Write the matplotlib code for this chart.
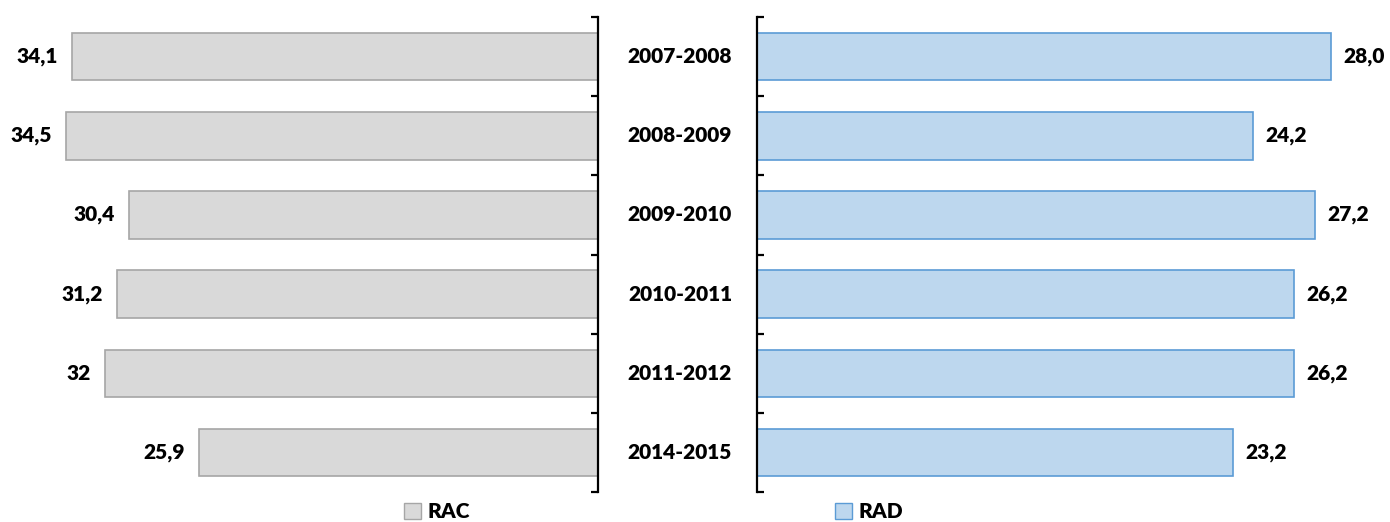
import numpy as np
import matplotlib.pyplot as plt
from matplotlib.patches import Patch

plt.rcParams['font.family'] = ['Lato', 'DejaVu Sans']
plt.rcParams['font.weight'] = 'heavy'

periods = ['2007-2008', '2008-2009', '2009-2010', '2010-2011', '2011-2012', '2014-2015']
rac = [34.1, 34.5, 30.4, 31.2, 32, 25.9]
rac_labels = ['34,1', '34,5', '30,4', '31,2', '32', '25,9']
rad = [28.0, 24.2, 27.2, 26.2, 26.2, 23.2]
rad_labels = ['28,0', '24,2', '27,2', '26,2', '26,2', '23,2']

W, H = 1390, 522
fig = plt.figure(figsize=(13.9, 5.22), dpi=100)
ax1 = fig.add_axes([10 / W, 30 / H, 588 / W, 475 / H])
ax2 = fig.add_axes([757 / W, 30 / H, 623 / W, 475 / H])

y = np.arange(len(periods))
gray, gray_edge = '#D9D9D9', '#A6A6A6'
blue, blue_edge = '#BDD7EE', '#5B9BD5'

ax1.barh(y, rac, height=0.6, color=gray, edgecolor=gray_edge, linewidth=1.2)
ax2.barh(y, rad, height=0.6, color=blue, edgecolor=blue_edge, linewidth=1.2)

ax1.set_xlim(38.13, 0)
ax2.set_xlim(0, 30.39)
for ax in (ax1, ax2):
    ax.set_ylim(5.5, -0.5)
    ax.set_xticks([])
    ax.set_yticks([])
    ax.set_yticks(np.arange(-0.5, len(periods)), minor=True)
    for s in ax.spines.values():
        s.set_visible(False)

ax1.spines['right'].set_visible(True)
ax1.spines['right'].set_linewidth(1.6)
ax1.yaxis.set_ticks_position('right')
ax1.tick_params(axis='y', which='minor', direction='in', length=5, width=1.6, right=True, left=False)
ax2.spines['left'].set_visible(True)
ax2.spines['left'].set_linewidth(1.6)
ax2.tick_params(axis='y', which='minor', direction='in', length=5, width=1.6)

txt = dict(fontsize=15, fontweight='heavy')
for yi, v, lab in zip(y, rac, rac_labels):
    ax1.annotate(lab, (v, yi), xytext=(-10, 0), textcoords='offset points',
                 ha='right', va='center', **txt)
for yi, v, lab in zip(y, rad, rad_labels):
    ax2.annotate(lab, (v, yi), xytext=(9, 0), textcoords='offset points',
                 ha='left', va='center', **txt)

# category labels in the gap between the panels
for yi, p in zip(y, periods):
    ax1.annotate(p, (0, yi), xytext=(59, 0), textcoords='offset points',
                 ha='center', va='center', annotation_clip=False, **txt)

leg_kw = dict(frameon=False, prop={'size': 15, 'weight': 'heavy'}, handlelength=0.8,
              handleheight=0.8, handletextpad=0.3, loc='center')
fig.legend(handles=[Patch(facecolor=gray, edgecolor=gray_edge, label='RAC')],
           bbox_to_anchor=(437 / W, 1 - 512 / H), **leg_kw)
fig.legend(handles=[Patch(facecolor=blue, edgecolor=blue_edge, label='RAD')],
           bbox_to_anchor=(869 / W, 1 - 512 / H), **leg_kw)

plt.savefig('out.png', dpi=100)
